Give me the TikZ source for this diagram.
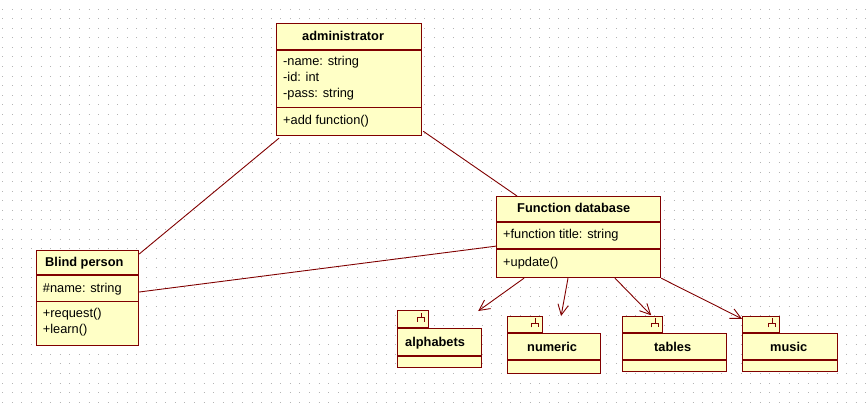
\documentclass[tikz,border=0pt]{standalone}
\usepackage{fontspec}
\setmainfont{Liberation Sans}
\usepackage{xcolor}
\usetikzlibrary{arrows.meta}

\definecolor{umlline}{HTML}{800000}
\definecolor{umlfill}{HTML}{FFFFC6}
\definecolor{umldot}{HTML}{B4B4B4}

\tikzset{
  pkgmark/.pic={
    \draw[line width=1pt, umlline] (0,-5) -- (0,0);
    \draw[line width=1pt, umlline] (-3.5,4) -- (-3.5,0) -- (3.5,0) -- (3.5,4);
  }
}

\begin{document}
\begin{tikzpicture}[
  x=1pt, y=-1pt,
  umlbox/.style={draw=umlline, fill=umlfill, line width=1.2pt, inner sep=0pt, anchor=north west},
  umlsep/.style={draw=umlline, line width=1.2pt},
  umltext/.style={inner sep=0pt, anchor=base west, font=\fontsize{12.8}{15}\selectfont},
  umltitle/.style={umltext, font=\fontsize{12.8}{15}\selectfont\bfseries},
  assoc/.style={draw=umlline, line width=0.9pt},
  depend/.style={assoc, -{Straight Barb[length=10.5pt, width=10.5pt, line width=0.9pt]}},
  griddots/.style={draw=umldot, line width=1pt, dash pattern=on 1pt off 8.59pt}
]
\useasboundingbox (0,0) rectangle (868,408);

% dotted background grid
\foreach \k in {0,...,41}
  \draw[griddots] (2.2,{9+\k*9.59}) -- (868,{9+\k*9.59});

% classes
\node[umlbox, minimum width=145pt, minimum height=112pt] (admin) at (276,23) {};
\draw[umlsep] ([yshift=-27pt]admin.north west) -- ([yshift=-27pt]admin.north east);
\draw[umlsep] ([yshift=-84.7pt]admin.north west) -- ([yshift=-84.7pt]admin.north east);
\node[umltitle] (admintitle) at (302,40) {administrator};
\node[umltext] (adminname) at (283,65.7) {-name: string};
\node[umltext] (adminid) at (283,81.7) {-id: int};
\node[umltext] (adminpass) at (283,97.7) {-pass: string};
\node[umltext] (adminadd) at (283,124) {+add function()};

\node[umlbox, minimum width=101.7pt, minimum height=95pt] (blind) at (36,250) {};
\draw[umlsep] ([yshift=-25pt]blind.north west) -- ([yshift=-25pt]blind.north east);
\draw[umlsep] ([yshift=-51.7pt]blind.north west) -- ([yshift=-51.7pt]blind.north east);
\node[umltitle] (blindtitle) at (45,266) {Blind person};
\node[umltext] (blindname) at (42.7,292.7) {\#name: string};
\node[umltext] (blindrequest) at (42.7,317) {+request()};
\node[umltext] (blindlearn) at (42.7,333) {+learn()};

\node[umlbox, minimum width=164pt, minimum height=81pt] (fdb) at (496,196) {};
\draw[umlsep] ([yshift=-26pt]fdb.north west) -- ([yshift=-26pt]fdb.north east);
\draw[umlsep] ([yshift=-53pt]fdb.north west) -- ([yshift=-53pt]fdb.north east);
\node[umltitle] (fdbtitle) at (517,212.7) {Function database};
\node[umltext] (fdbtitleattr) at (503,238.3) {+function title: string};
\node[umltext] (fdbupdate) at (503,266) {+update()};

% packages
\node[umlbox, minimum width=84pt, minimum height=39pt] (alpha) at (397,328) {};
\node[umlbox, anchor=south west, minimum width=31pt, minimum height=17pt] (alphatab) at (alpha.north west) {};
\draw[umlsep] ([yshift=-28pt]alpha.north west) -- ([yshift=-28pt]alpha.north east);
\pic at ([xshift=-8pt,yshift=-8pt]alphatab.north east) {pkgmark};
\node[umltitle] (alphalabel) at (405,346) {alphabets};

\node[umlbox, minimum width=93pt, minimum height=40pt] (numeric) at (507,333) {};
\node[umlbox, anchor=south west, minimum width=35pt, minimum height=16pt] (numerictab) at (numeric.north west) {};
\draw[umlsep] ([yshift=-27pt]numeric.north west) -- ([yshift=-27pt]numeric.north east);
\pic at ([xshift=-8pt,yshift=-7.5pt]numerictab.north east) {pkgmark};
\node[umltitle] (numericlabel) at (527,351) {numeric};

\node[umlbox, minimum width=104pt, minimum height=38pt] (tables) at (622,333) {};
\node[umlbox, anchor=south west, minimum width=40pt, minimum height=16pt] (tablestab) at (tables.north west) {};
\draw[umlsep] ([yshift=-27pt]tables.north west) -- ([yshift=-27pt]tables.north east);
\pic at ([xshift=-8pt,yshift=-7.5pt]tablestab.north east) {pkgmark};
\node[umltitle] (tableslabel) at (654,351) {tables};

\node[umlbox, minimum width=95pt, minimum height=38pt] (music) at (742,333) {};
\node[umlbox, anchor=south west, minimum width=37pt, minimum height=16pt] (musictab) at (music.north west) {};
\draw[umlsep] ([yshift=-27pt]music.north west) -- ([yshift=-27pt]music.north east);
\pic at ([xshift=-8pt,yshift=-7.5pt]musictab.north east) {pkgmark};
\node[umltitle] (musiclabel) at (770,351) {music};

% associations
\draw[assoc] ([xshift=3pt,yshift=-2pt]admin.south west) -- ([xshift=0.3pt,yshift=-4pt]blind.north east);
\draw[assoc] ([xshift=1pt,yshift=5pt]admin.south east) -- ([xshift=21pt]fdb.north west);
\draw[assoc] ([xshift=0.3pt,yshift=-42pt]blind.north east) -- ([xshift=1pt,yshift=-50pt]fdb.north west);

% dependencies
\draw[depend] ([xshift=28pt]fdb.south west) -- ([xshift=-4pt,yshift=17pt]alpha.north east);
\draw[depend] ([xshift=72pt]fdb.south west) -- ([xshift=7pt,yshift=17pt]numeric.north);
\draw[depend] ([xshift=119pt]fdb.south west) -- ([xshift=-12pt,yshift=0.5pt]tablestab.north east);
\draw[depend] (fdb.south east) -- ([yshift=-3pt]musictab.north west);
\end{tikzpicture}
\end{document}
